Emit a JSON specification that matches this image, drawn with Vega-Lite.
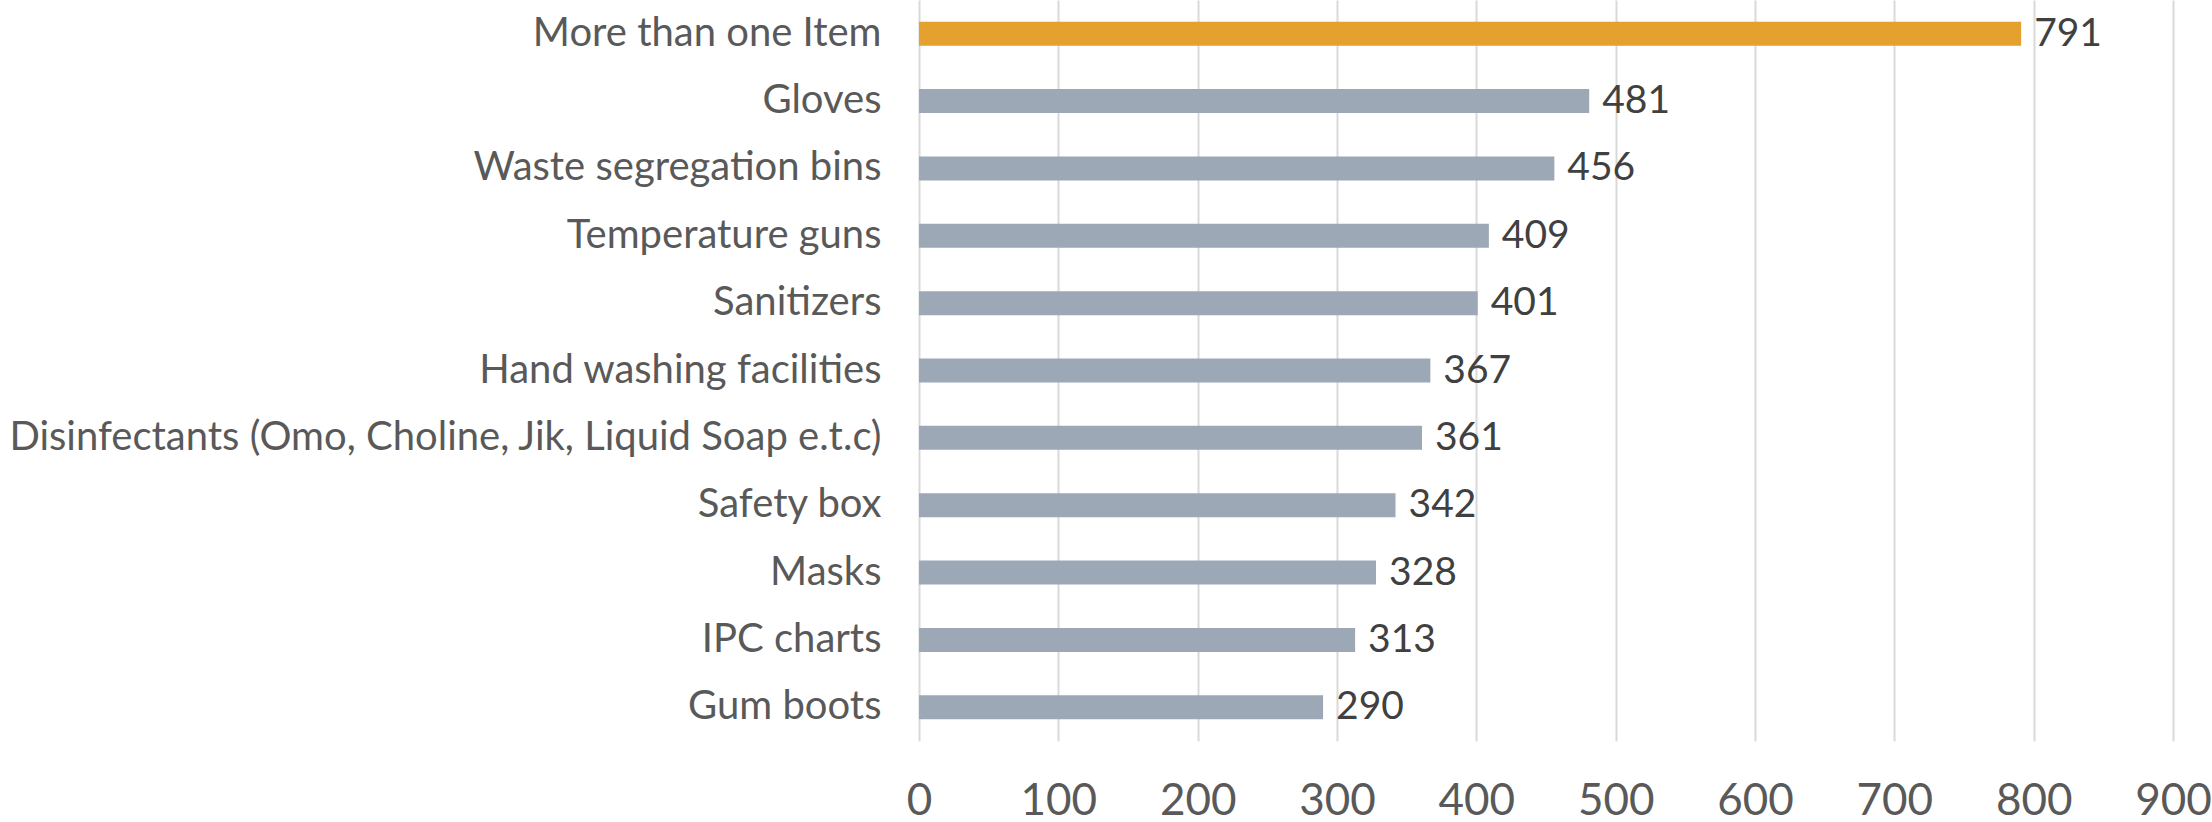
{
  "$schema": "https://vega.github.io/schema/vega-lite/v6.json",
  "autosize": "none",
  "width": 1254,
  "height": 741,
  "padding": {"left": 919, "top": 0, "right": 39, "bottom": 81},
  "background": "white",
  "data": {"values": [
    {"Item": "More than one Item", "Count": 791},
    {"Item": "Gloves\u00a0", "Count": 481},
    {"Item": "Waste segregation bins\u00a0", "Count": 456},
    {"Item": "Temperature guns", "Count": 409},
    {"Item": "Sanitizers\u00a0", "Count": 401},
    {"Item": "Hand washing facilities\u00a0", "Count": 367},
    {"Item": "Disinfectants (Omo, Choline, Jik, Liquid Soap e.t.c)", "Count": 361},
    {"Item": "Safety box\u00a0", "Count": 342},
    {"Item": "Masks\u00a0", "Count": 328},
    {"Item": "IPC charts\u00a0", "Count": 313},
    {"Item": "Gum boots", "Count": 290}
  ]},
  "config": {
    "view": {"stroke": null},
    "font": "Lato"
  },
  "encoding": {
    "y": {
      "field": "Item", "type": "nominal", "sort": "-x",
      "scale": {"paddingInner": 0.644, "paddingOuter": 0.322},
      "axis": {"title": null, "domain": false, "ticks": false, "labelFontSize": 40, "labelColor": "#595959", "labelPadding": 38, "labelFont": "Lato", "labelLimit": 1000}
    },
    "x": {
      "field": "Count", "type": "quantitative",
      "scale": {"domain": [0, 900], "nice": false},
      "axis": {"title": null, "domain": false, "ticks": false, "values": [0,100,200,300,400,500,600,700,800,900], "labelFlush": false, "labelFontSize": 44, "labelColor": "#595959", "labelPadding": 38, "gridColor": "#d9d9d9", "gridWidth": 2, "labelFont": "Lato"}
    }
  },
  "layer": [
    {
      "mark": {"type": "bar"},
      "encoding": {
        "color": {
          "condition": {"test": "datum.Item === 'More than one Item'", "value": "#E5A12E"},
          "value": "#9CA8B6"
        }
      }
    },
    {
      "mark": {"type": "text", "align": "left", "baseline": "middle", "dx": 13, "fontSize": 39, "color": "#404040", "font": "Lato"},
      "encoding": {"text": {"field": "Count", "type": "quantitative"}}
    }
  ]
}
